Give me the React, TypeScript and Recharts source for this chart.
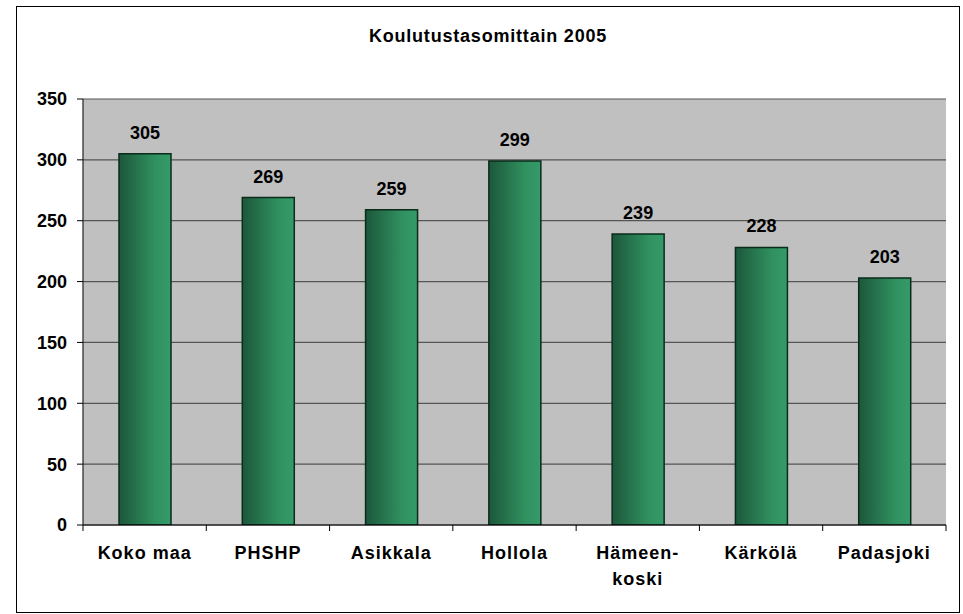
import React from 'react';
import { BarChart, Bar, XAxis, YAxis, CartesianGrid, LabelList } from 'recharts';

const categories = ['Koko maa', 'PHSHP', 'Asikkala', 'Hollola', 'Hämeen-\nkoski', 'Kärkölä', 'Padasjoki'];
const values = [305, 269, 259, 299, 239, 228, 203];
const yTicks = [0, 50, 100, 150, 200, 250, 300, 350];
const title = 'Koulutustasomittain 2005';

const data = categories.map((name, i) => ({ name, value: values[i] }));

const FONT = '"Liberation Sans", Arial, sans-serif';

const XTick = (props: any) => {
  const { x, y, payload, index, visibleTicksCount, width } = props;
  const half = payload && payload.offset ? payload.offset : width / ((visibleTicksCount || 7) * 2);
  const lines = String(payload.value).split('\n');
  const isLast = index === (visibleTicksCount || 7) - 1;
  return (
    <g>
      <line x1={x - half} x2={x - half} y1={y} y2={y + 6} stroke="#000" strokeWidth={1} />
      {isLast && <line x1={x + half} x2={x + half} y1={y} y2={y + 6} stroke="#000" strokeWidth={1} />}
      <text
        x={x}
        y={y + 34}
        textAnchor="middle"
        fontFamily={FONT}
        fontWeight="bold"
        fontSize={18}
        letterSpacing={1}
        fill="#000"
      >
        {lines.map((l, i) => (
          <tspan key={i} x={x} dy={i === 0 ? 0 : 26}>
            {l}
          </tspan>
        ))}
      </text>
    </g>
  );
};

export default function App() {
  return (
    <div style={{ position: 'absolute', left: 0, top: 0, width: 963, height: 614, background: '#fff' }}>
      <div
        style={{
          position: 'absolute',
          left: 16,
          top: 6,
          width: 944,
          height: 607,
          border: '1.5px solid #000',
          boxSizing: 'border-box',
          background: '#fff',
        }}
      />
      <div style={{ position: 'absolute', left: 0, top: 0 }}>
        <BarChart
          width={963}
          height={614}
          data={data}
          margin={{ top: 99, right: 17, bottom: 0, left: 0 }}
          barCategoryGap={0}
        >
          <defs>
            <linearGradient id="barGrad" x1="0" y1="0" x2="1" y2="0">
              <stop offset="0%" stopColor="#1c573c" />
              <stop offset="70%" stopColor="#30915f" />
              <stop offset="100%" stopColor="#349b69" />
            </linearGradient>
          </defs>
          <text
            x={488}
            y={42}
            textAnchor="middle"
            fontFamily={FONT}
            fontWeight="bold"
            fontSize={18}
            letterSpacing={0.8}
            fill="#000"
          >
            {title}
          </text>
          <CartesianGrid fill="#c0c0c0" vertical={false} stroke="#555" strokeWidth={1.2} />
          <XAxis
            dataKey="name"
            interval={0}
            height={89}
            tickLine={false}
            tickSize={0}
            tickMargin={0}
            axisLine={{ stroke: '#000', strokeWidth: 1.2 }}
            tick={<XTick />}
          />
          <YAxis
            domain={[0, 350]}
            ticks={yTicks}
            width={83}
            tickSize={6}
            tickMargin={10}
            tickLine={{ stroke: '#000' }}
            axisLine={{ stroke: '#222', strokeWidth: 1.2 }}
            tick={{ fill: '#000', fontFamily: FONT, fontWeight: 'bold', fontSize: 18 }}
            allowDataOverflow
          />
          <Bar
            dataKey="value"
            barSize={52}
            fill="url(#barGrad)"
            stroke="#0b2b1b"
            strokeWidth={1.5}
            isAnimationActive={false}
          >
            <LabelList
              dataKey="value"
              position="top"
              offset={15}
              style={{ fill: '#000', fontFamily: FONT, fontWeight: 'bold', fontSize: 18 }}
            />
          </Bar>
        </BarChart>
      </div>
    </div>
  );
}
